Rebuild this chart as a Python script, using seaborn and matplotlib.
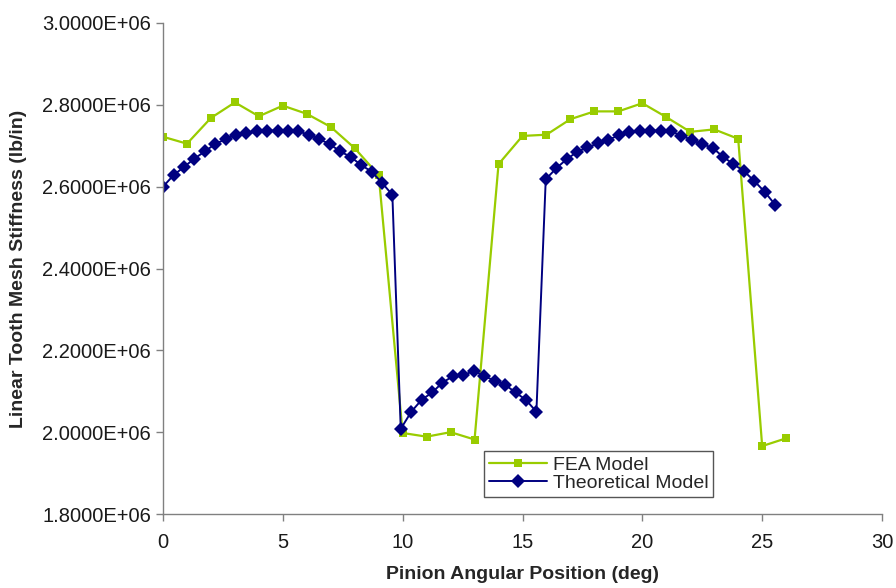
import matplotlib
matplotlib.use("Agg")
import matplotlib.pyplot as plt
import pandas as pd
import seaborn as sns
from matplotlib.ticker import FuncFormatter, MultipleLocator

# FEA model, one point per degree
fea_deg = [0, 1, 2, 3, 4, 5, 6, 7, 8, 9, 10, 11, 12, 13,
           14, 15, 16, 17, 18, 19, 20, 21, 22, 23, 24, 25, 26]
fea_k = [2.722e6, 2.705e6, 2.768e6, 2.806e6, 2.772e6, 2.798e6, 2.778e6,
         2.746e6, 2.694e6, 2.628e6, 1.998e6, 1.989e6, 2.000e6, 1.982e6,
         2.655e6, 2.724e6, 2.727e6, 2.765e6, 2.784e6, 2.784e6, 2.804e6,
         2.770e6, 2.734e6, 2.740e6, 2.717e6, 1.966e6, 1.985e6]

# theoretical model
theo_deg = [0.00, 0.44, 0.87, 1.30, 1.74, 2.17, 2.61, 3.04, 3.48, 3.91,
            4.35, 4.78, 5.22, 5.65, 6.09, 6.52, 6.96, 7.39, 7.83, 8.26,
            8.70, 9.13, 9.57,
            9.92, 10.36, 10.79, 11.23, 11.66, 12.10, 12.53, 12.97, 13.40,
            13.84, 14.27, 14.71, 15.14, 15.58,
            15.97, 16.41, 16.84, 17.28, 17.71, 18.15, 18.58, 19.02, 19.45,
            19.89, 20.32, 20.76, 21.19, 21.63, 22.06, 22.50, 22.93, 23.37,
            23.80, 24.24, 24.67, 25.11, 25.54]
theo_k = [2.600e6, 2.628e6, 2.648e6, 2.668e6, 2.686e6, 2.704e6, 2.716e6,
          2.727e6, 2.730e6, 2.735e6, 2.737e6, 2.737e6, 2.737e6, 2.735e6,
          2.727e6, 2.716e6, 2.704e6, 2.686e6, 2.673e6, 2.653e6, 2.637e6,
          2.610e6, 2.580e6,
          2.008e6, 2.050e6, 2.079e6, 2.097e6, 2.121e6, 2.137e6, 2.139e6,
          2.150e6, 2.137e6, 2.126e6, 2.116e6, 2.097e6, 2.079e6, 2.050e6,
          2.618e6, 2.645e6, 2.667e6, 2.685e6, 2.696e6, 2.706e6, 2.714e6,
          2.726e6, 2.733e6, 2.737e6, 2.737e6, 2.737e6, 2.735e6, 2.725e6,
          2.714e6, 2.704e6, 2.695e6, 2.673e6, 2.655e6, 2.638e6, 2.614e6,
          2.587e6, 2.556e6]

sns.set_theme(style="white")
plt.rcParams["font.family"] = ["Liberation Sans", "DejaVu Sans"]

fea = pd.DataFrame({"deg": fea_deg, "k": fea_k})
theo = pd.DataFrame({"deg": theo_deg, "k": theo_k})

fig = plt.figure(figsize=(8.96, 5.88), dpi=100)
ax = fig.add_axes([163 / 896, 1 - 514 / 588, 719 / 896, 491 / 588])

sns.lineplot(data=fea, x="deg", y="k", color="#99CC00", marker="s",
             markersize=6.3, markeredgewidth=0, linewidth=1.6,
             label="FEA Model", ax=ax)
sns.lineplot(data=theo, x="deg", y="k", color="#000080", marker="D",
             markersize=6.8, markeredgewidth=0, linewidth=1.4,
             label="Theoretical Model", ax=ax)

ax.set_xlim(0, 30)
ax.set_ylim(1.8e6, 3.0e6)
ax.xaxis.set_major_locator(MultipleLocator(5))
ax.yaxis.set_major_locator(MultipleLocator(2e5))
ax.yaxis.set_major_formatter(FuncFormatter(lambda v, p: f"{v:.4E}"))
ax.tick_params(axis="both", labelsize=14.5, length=5, width=1, color="#808080",
               direction="out", bottom=True, left=True, labelcolor="#1a1a1a")
ax.tick_params(axis="x", pad=9)

for side in ["top", "right"]:
    ax.spines[side].set_visible(False)
for side in ["left", "bottom"]:
    ax.spines[side].set_color("#808080")
    ax.spines[side].set_linewidth(1)

ax.set_xlabel("Pinion Angular Position (deg)", fontsize=14, fontweight="bold", labelpad=10)
ax.set_ylabel("Linear Tooth Mesh Stiffness (lb/in)", fontsize=14, fontweight="bold", labelpad=11)

leg = ax.legend(loc="lower left", bbox_to_anchor=(0.446, 0.035), borderaxespad=0,
                fontsize=14, frameon=True, fancybox=False, framealpha=1,
                handlelength=3, labelspacing=0.02, borderpad=0.25, handletextpad=0.3)
leg.get_frame().set_edgecolor("#555555")
leg.get_frame().set_linewidth(1)

fig.savefig("out.png", dpi=100)
